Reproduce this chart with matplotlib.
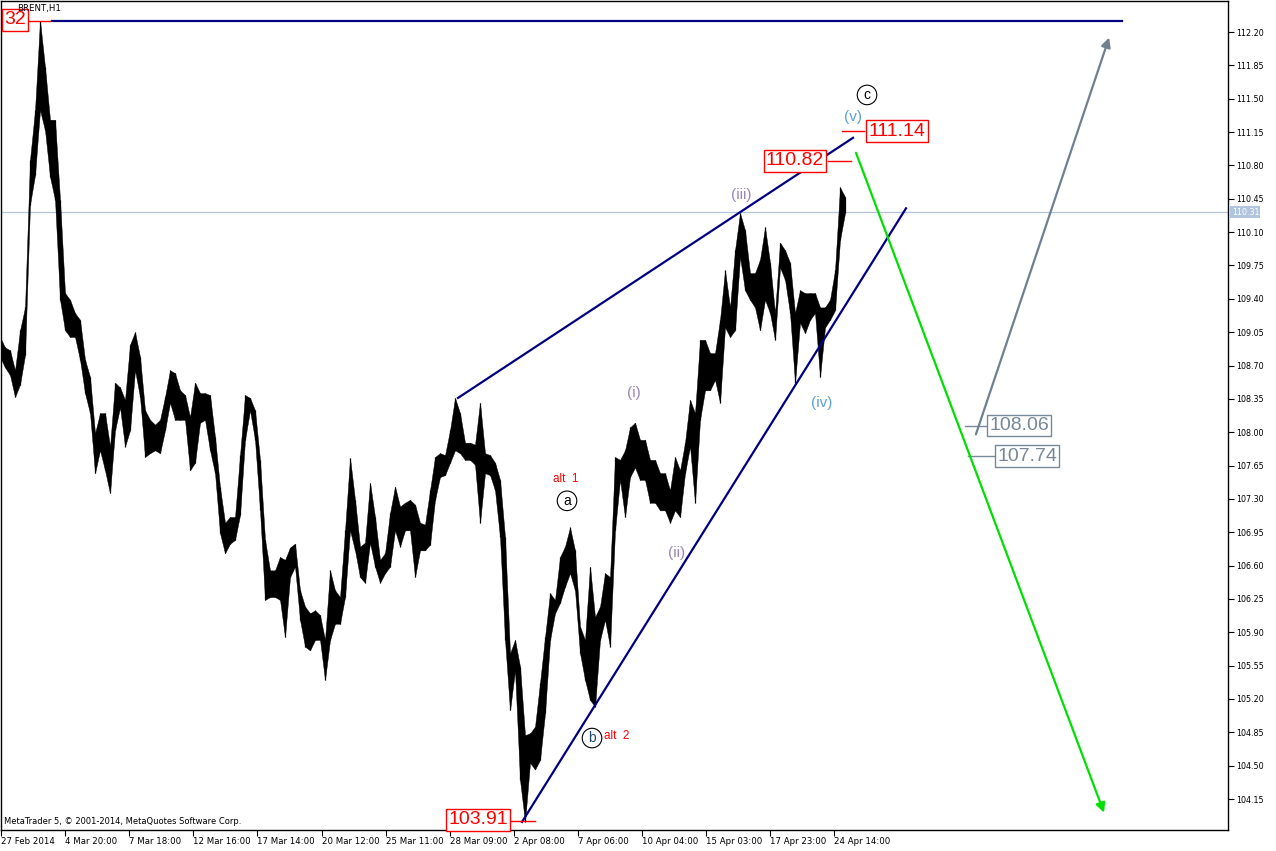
import matplotlib
matplotlib.use("Agg")
import matplotlib.pyplot as plt
import numpy as np

# BRENT H1, sampled every 5 bars: high / low of each window
highs = [109.00, 108.89, 108.86, 108.65, 109.07, 109.31, 110.86, 111.38, 112.32, 111.83,
         111.28, 111.28, 110.44, 109.46, 109.39, 109.25, 109.18, 108.76, 108.58, 107.99,
         108.20, 108.20, 107.85, 108.52, 108.47, 108.34, 108.92, 109.05, 108.79, 108.23,
         108.13, 108.08, 108.13, 108.37, 108.65, 108.62, 108.44, 108.39, 108.16, 108.52,
         108.41, 108.41, 108.39, 107.95, 107.42, 107.05, 107.11, 107.11, 107.76, 108.39,
         108.36, 108.23, 107.71, 106.87, 106.55, 106.55, 106.69, 106.66, 106.79, 106.83,
         106.34, 106.17, 106.10, 106.13, 106.08, 105.82, 106.55, 106.34, 106.27, 106.97,
         107.73, 107.29, 106.80, 106.84, 107.47, 107.11, 106.66, 106.73, 107.15, 107.43,
         107.22, 107.26, 107.29, 107.24, 107.05, 107.03, 107.39, 107.74, 107.78, 107.76,
         108.02, 108.36, 108.20, 107.89, 107.89, 107.87, 108.31, 107.78, 107.76, 107.68,
         107.50, 106.90, 105.68, 105.82, 105.54, 104.82, 104.84, 104.91, 105.37, 105.85,
         106.31, 106.24, 106.69, 106.80, 107.00, 106.76, 105.96, 105.82, 106.59, 106.06,
         106.17, 106.52, 106.48, 107.74, 107.71, 107.81, 108.05, 108.10, 107.92, 107.92,
         107.71, 107.71, 107.57, 107.57, 107.39, 107.74, 107.60, 107.89, 108.34, 108.20,
         108.97, 108.97, 108.83, 108.83, 109.18, 109.70, 109.31, 109.91, 110.30, 110.12,
         109.67, 109.67, 109.81, 110.15, 109.78, 109.25, 109.99, 109.91, 109.78, 109.25,
         109.49, 109.46, 109.46, 109.46, 109.31, 109.31, 109.39, 109.70, 110.57, 110.47]
lows = [108.79, 108.68, 108.60, 108.37, 108.50, 108.81, 110.39, 110.70, 111.38, 111.17,
        110.68, 110.44, 109.39, 109.07, 109.00, 109.00, 108.76, 108.41, 108.20, 107.57,
        107.81, 107.60, 107.36, 108.02, 108.26, 107.85, 108.02, 108.65, 108.37, 107.74,
        107.78, 107.81, 107.78, 108.02, 108.31, 108.13, 108.13, 108.13, 107.60, 107.68,
        108.10, 108.13, 107.81, 107.57, 106.94, 106.73, 106.83, 106.87, 107.13, 107.92,
        108.23, 107.92, 107.18, 106.24, 106.27, 106.27, 106.24, 105.85, 106.48, 106.59,
        106.03, 105.75, 105.71, 105.82, 105.82, 105.40, 105.82, 105.99, 105.99, 106.27,
        106.97, 106.76, 106.48, 106.42, 106.84, 106.59, 106.42, 106.52, 106.59, 106.97,
        106.80, 106.97, 106.97, 106.48, 106.76, 106.76, 106.82, 107.29, 107.53, 107.55,
        107.68, 107.81, 107.78, 107.71, 107.71, 107.66, 107.05, 107.57, 107.55, 107.39,
        106.90, 105.82, 105.08, 105.50, 104.35, 103.91, 104.53, 104.46, 104.56, 105.05,
        105.82, 106.10, 106.21, 106.38, 106.52, 106.34, 105.68, 105.40, 105.19, 105.12,
        105.82, 106.03, 105.75, 106.97, 107.50, 107.11, 107.53, 107.63, 107.50, 107.50,
        107.26, 107.26, 107.18, 107.18, 107.05, 107.18, 107.11, 107.57, 107.85, 107.26,
        108.13, 108.44, 108.44, 108.55, 108.31, 109.10, 109.00, 109.07, 109.84, 109.49,
        109.39, 109.31, 109.07, 109.39, 109.25, 108.97, 109.73, 109.60, 109.25, 108.52,
        109.15, 109.04, 109.18, 109.25, 108.58, 109.10, 109.18, 109.28, 110.02, 110.30]
step = 5
last_price = 110.31
top_price = 112.32

date_labels = ['27 Feb 2014', '4 Mar 20:00', '7 Mar 18:00', '12 Mar 16:00', '17 Mar 14:00',
               '20 Mar 12:00', '25 Mar 11:00', '28 Mar 09:00', '2 Apr 08:00', '7 Apr 06:00',
               '10 Apr 04:00', '15 Apr 03:00', '17 Apr 23:00', '24 Apr 14:00']
price_ticks = [104.15, 104.50, 104.85, 105.20, 105.55, 105.90, 106.25, 106.60, 106.95, 107.30,
               107.65, 108.00, 108.35, 108.70, 109.05, 109.40, 109.75, 110.10, 110.45, 110.80,
               111.15, 111.50, 111.85, 112.20]

red_levels = ['110.82', '111.14', '103.91']
gray_levels = ['108.06', '107.74']

fig = plt.figure(figsize=(12.76, 8.51), dpi=100)
ax = fig.add_axes([0.0008, 1 - 830 / 851, 1227 / 1276, 829 / 851])
ax.set_xlim(1, 1228)
ax.set_ylim(103.825, 112.526)

bars = np.arange(len(highs)) * step
ax.fill_between(bars, lows, highs, color='black', lw=0.3)
ax.vlines(bars, lows, highs, color='black', lw=0.9)

# horizontal lines
ax.axhline(last_price, color='#b0c4de', lw=0.9, zorder=0)
ax.plot([52, 1122], [top_price, top_price], color='#000080', lw=1.6)
ax.plot([28, 50], [top_price, top_price], color='red', lw=1)

# wedge lines
ax.plot([458, 853], [108.36, 111.09], color='#000080', lw=1.6)
ax.plot([522, 906], [103.91, 110.35], color='#000080', lw=1.6)

# projection arrows
ax.annotate('', xy=(1105, 103.98), xytext=(855, 110.96),
            arrowprops=dict(arrowstyle='-|>', color='#00e000', lw=1.6, mutation_scale=14))
ax.annotate('', xy=(1110, 112.17), xytext=(975, 107.95),
            arrowprops=dict(arrowstyle='-|>', color='#708090', lw=1.6, mutation_scale=14))

# price labels
fnt = 'Liberation Sans'
red_box = dict(boxstyle='square,pad=0.12', fc='white', ec='red', lw=1)
gray_box = dict(boxstyle='square,pad=0.12', fc='white', ec='#778899', lw=1)
ax.text(4, 112.33, '32', color='red', fontsize=14, family=fnt, va='center', ha='left', bbox=red_box)
ax.text(17, 112.45, 'BRENT,H1', fontsize=6.2, va='center', ha='left')

ax.text(795, 110.85, red_levels[0], color='red', fontsize=14, family=fnt, ha='center', va='center', bbox=red_box)
ax.plot([828, 851], [110.85, 110.85], color='red', lw=1)
ax.text(897, 111.16, red_levels[1], color='red', fontsize=14, family=fnt, ha='center', va='center', bbox=red_box)
ax.plot([842, 864], [111.16, 111.16], color='red', lw=1)
ax.text(478, 103.93, red_levels[2], color='red', fontsize=14, family=fnt, ha='center', va='center', bbox=red_box)
ax.plot([511, 535], [103.92, 103.92], color='red', lw=1)

ax.text(1019, 108.07, gray_levels[0], color='#778899', fontsize=14, family=fnt, ha='center', va='center', bbox=gray_box)
ax.plot([965, 987], [108.07, 108.07], color='#778899', lw=1)
ax.text(1027, 107.75, gray_levels[1], color='#778899', fontsize=14, family=fnt, ha='center', va='center', bbox=gray_box)
ax.plot([968, 995], [107.75, 107.75], color='#778899', lw=1)

# wave labels
purple = '#9a86b8'
lblue = '#5fa0d8'
ax.text(634, 108.41, '(i)', color=purple, fontsize=11, family=fnt, ha='center', va='center')
ax.text(677, 106.73, '(ii)', color=purple, fontsize=11, family=fnt, ha='center', va='center')
ax.text(741, 110.49, '(iii)', color=purple, fontsize=11, family=fnt, ha='center', va='center')
ax.text(822, 108.31, '(iv)', color=lblue, fontsize=11, family=fnt, ha='center', va='center')
ax.text(853, 111.31, '(v)', color=lblue, fontsize=11, family=fnt, ha='center', va='center')

circ = dict(boxstyle='circle,pad=0.2', fc='white', ec='black', lw=0.8)
ax.text(867, 111.54, 'c', color='black', fontsize=10, family=fnt, ha='center', va='center', bbox=circ)
ax.text(567, 107.28, 'a', color='black', fontsize=10, family=fnt, ha='center', va='center', bbox=circ)
ax.text(592, 104.79, 'b', color='#1f4a66', fontsize=10, family=fnt, ha='center', va='center', bbox=circ)
ax.text(566, 107.51, 'alt  1', color='red', fontsize=8.5, family=fnt, ha='center', va='center')
ax.text(617, 104.81, 'alt  2', color='red', fontsize=8.5, family=fnt, ha='center', va='center')

ax.text(4, 103.91, 'MetaTrader 5, \u00a9 2001-2014, MetaQuotes Software Corp.',
        fontsize=6, ha='left', va='center')

# axes styling
ax.yaxis.tick_right()
ax.set_yticks(price_ticks)
ax.set_yticklabels(['%.2f' % p for p in price_ticks])
ax.tick_params(axis='y', direction='out', length=4, width=0.8, labelsize=5.8, pad=1.5)
xt = [1 + 64.1 * i for i in range(len(date_labels))]
ax.set_xticks(xt)
ax.set_xticklabels(date_labels, ha='left')
ax.tick_params(axis='x', direction='out', length=4, width=0.8, labelsize=6.2, pad=1)
for s in ax.spines.values():
    s.set_linewidth(1)

ax.text(1.003, last_price, '%.2f' % last_price, transform=ax.get_yaxis_transform(),
        color='white', fontsize=5.8, ha='left', va='center',
        bbox=dict(boxstyle='square,pad=0.15', fc='#b0c4de', ec='none'))

fig.savefig('out.png', dpi=100)
